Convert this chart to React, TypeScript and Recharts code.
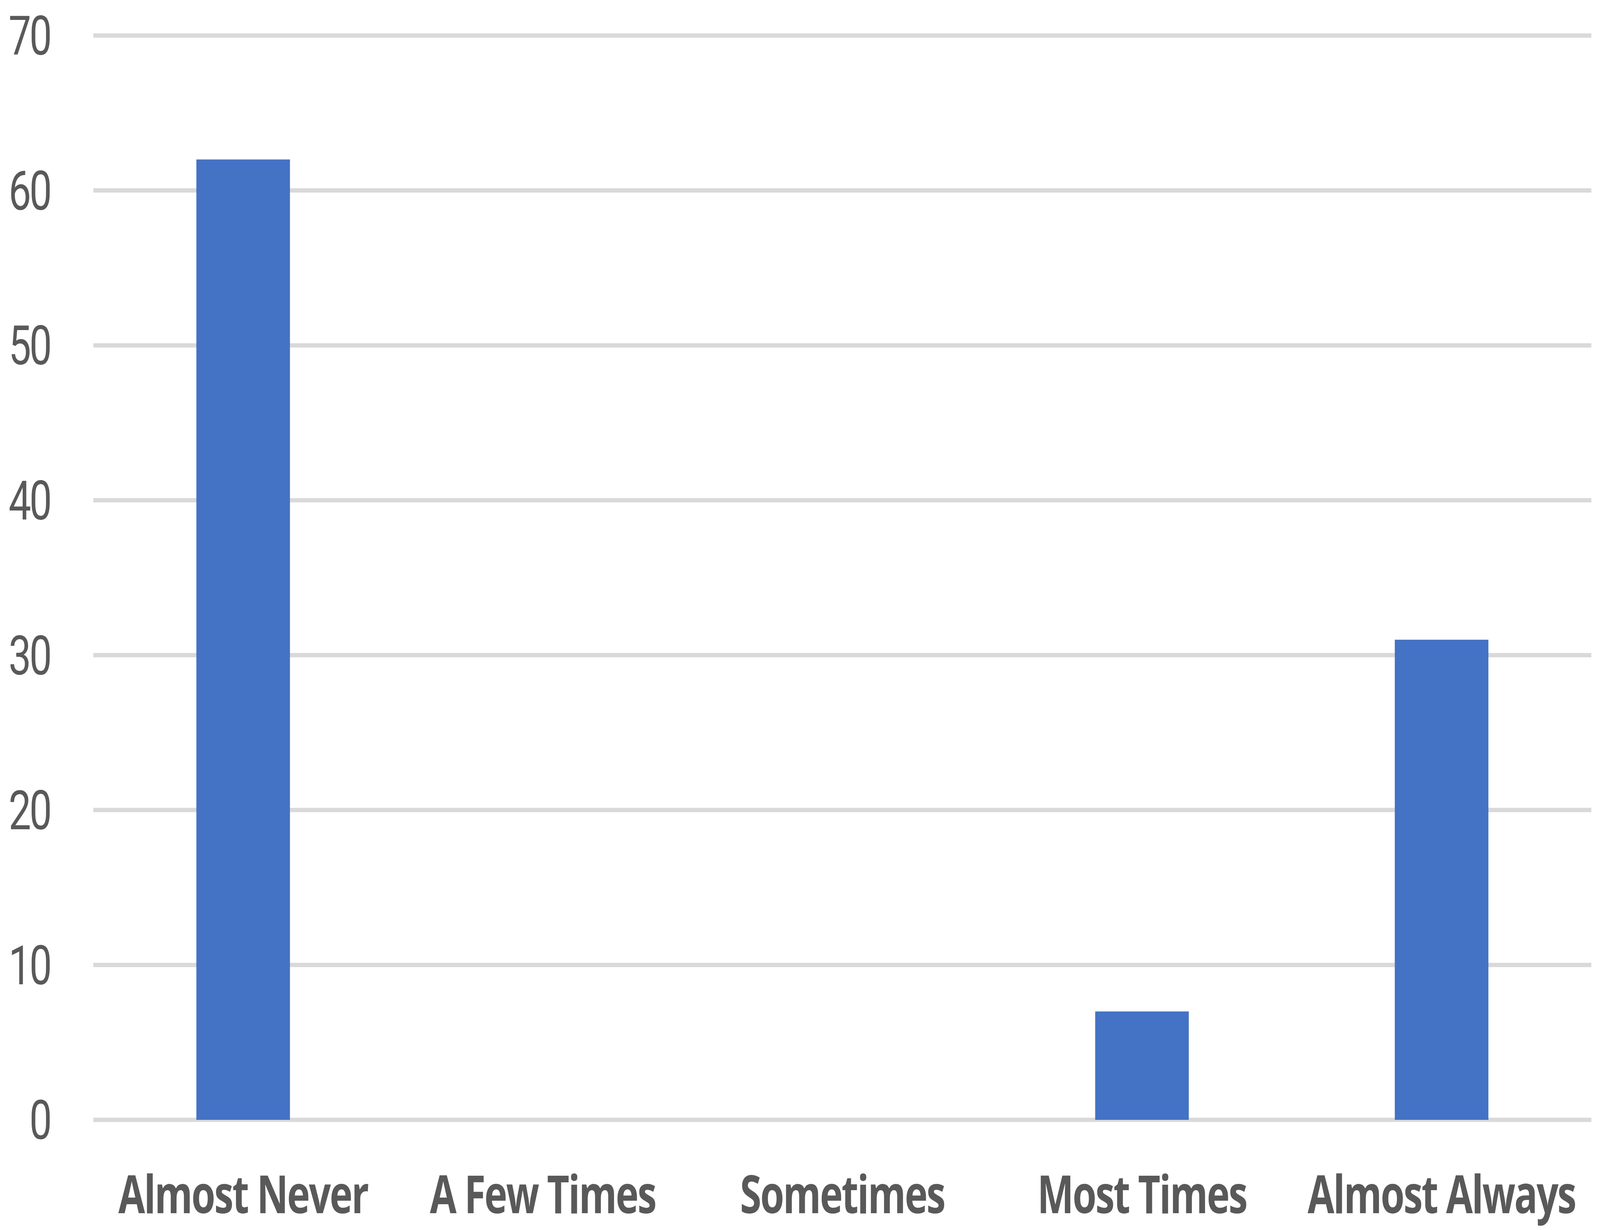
import { useState, useEffect } from "react";
import { BarChart, Bar, XAxis, YAxis, CartesianGrid } from "recharts";

const categories = ["Almost Never", "A Few Times", "Sometimes", "Most Times", "Almost Always"];
const counts = [62, 0, 0, 7, 31];
const yTicks = [0, 10, 20, 30, 40, 50, 60, 70];

const data = categories.map((name, i) => ({ name, value: counts[i] }));

const W = 5539;
const H = 3149;

export default function App() {
    // the browser window can be narrower than the chart, so squeeze it to fit
    const [vw, setVw] = useState(typeof window !== "undefined" ? window.innerWidth : W);

    useEffect(() => {
        const onResize = () => setVw(window.innerWidth);
        window.addEventListener("resize", onResize);
        return () => window.removeEventListener("resize", onResize);
    }, []);

    const sx = Math.min(1, vw / W);

    return (
        <div style={{ position: "absolute", left: 0, top: 0, width: W * sx, height: H, overflow: "hidden", background: "#fff" }}>
            <div style={{ width: W, height: H, transform: `scale(${sx}, 1)`, transformOrigin: "0 0" }}>
                <BarChart
                    width={W}
                    height={H}
                    data={data}
                    margin={{ top: 91, right: 30, bottom: 0, left: 0 }}
                    barCategoryGap="34.4%"
                >
                    <CartesianGrid vertical={false} stroke="#d9d9d9" strokeWidth={11} />
                    <XAxis
                        dataKey="name"
                        height={282}
                        axisLine={false}
                        tickLine={false}
                        tickSize={0}
                        tickMargin={144}
                        interval={0}
                        tick={{ fill: "#595959", fontSize: 134, fontWeight: 700, fontFamily: "Open Sans", letterSpacing: -4 }}
                    />
                    <YAxis
                        width={323}
                        domain={[0, 70]}
                        ticks={yTicks}
                        axisLine={false}
                        tickLine={false}
                        tickSize={0}
                        tickMargin={149}
                        tick={{ fill: "#595959", fontSize: 139, fontFamily: "Roboto", letterSpacing: -6 }}
                    />
                    <Bar dataKey="value" fill="#4472C4" isAnimationActive={false} />
                </BarChart>
            </div>
        </div>
    );
}
